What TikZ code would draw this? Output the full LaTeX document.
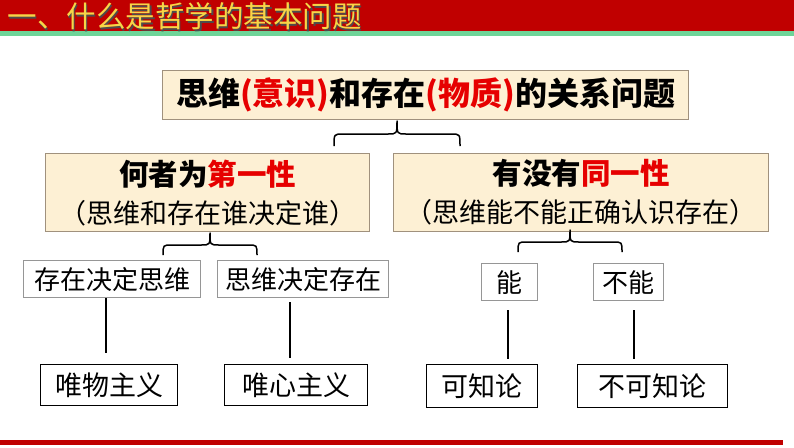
\documentclass[tikz,border=0pt]{standalone}
\usepackage{fontspec}
\newfontfamily\cjk{Noto Sans CJK SC}
\newfontfamily\cjkblack{Noto Sans CJK SC Black}
\definecolor{bandred}{RGB}{192,0,0}
\definecolor{bandgreen}{RGB}{110,212,152}
\definecolor{titlegold}{RGB}{246,214,72}
\definecolor{hired}{RGB}{230,0,0}
\definecolor{beige}{RGB}{253,240,212}
\definecolor{beigeborder}{RGB}{160,145,125}
\definecolor{smallborder}{RGB}{150,150,150}
\tikzset{
  bigbox/.style={draw=beigeborder, fill=beige, line width=1.2pt, inner sep=0pt, anchor=north west, align=center},
  smallbox/.style={draw=smallborder, fill=white, line width=1.2pt, inner sep=0pt, anchor=north west, font=\cjk\fontsize{26}{30}\selectfont},
  endbox/.style={draw=black, fill=white, line width=1.2pt, inner sep=0pt, anchor=north west, font=\cjk\fontsize{27}{30}\selectfont},
  conn/.style={draw=black, line width=1.5pt},
  bracestyle/.style={draw=black, line width=1.5pt, line join=round}
}
\newcommand\drawbrace[6]{%
  \draw[bracestyle] (#1,#4) .. controls (#1,#5) .. ({#1+9},#5) -- ({#3-9},#5)
    .. controls (#3,#5) .. (#3,#6) .. controls (#3,#5) .. ({#3+9},#5)
    -- ({#2-9},#5) .. controls (#2,#5) .. (#2,#4);}
\begin{document}
\begin{tikzpicture}[x=1pt,y=-1pt]
\useasboundingbox (0,0) rectangle (794,447);
% header
\fill[bandred] (0,0) rectangle (794,31);
\fill[bandgreen] (0,31) rectangle (794,36);
\node[anchor=west, text=black!70, font=\cjk\fontsize{29.5}{30}\selectfont, inner sep=0pt] (titleshadow) at (8.8,17.8) {一、什么是哲学的基本问题};
\node[anchor=west, text=titlegold, font=\cjk\fontsize{29.5}{30}\selectfont, inner sep=0pt] (title) at (7.5,16.5) {一、什么是哲学的基本问题};
% bottom bar
\fill[bandred] (0,440) rectangle (783,445);
% top box
\node[bigbox, minimum width=526pt, minimum height=49pt, font=\cjkblack\fontsize{32}{36}\selectfont] (top) at (162,70)
  {思维\textcolor{hired}{(意识)}和存在\textcolor{hired}{(物质)}的关系问题};
% second level
\node[bigbox, minimum width=324pt, minimum height=78pt, font=\cjk\fontsize{27}{38}\selectfont] (left) at (45,153)
  {{\cjkblack\fontsize{29.5}{38}\selectfont 何者为\textcolor{hired}{第一性}}\\（思维和存在谁决定谁）};
\node[bigbox, minimum width=375pt, minimum height=78pt, font=\cjk\fontsize{27}{38}\selectfont] (right) at (393,153)
  {{\cjkblack\fontsize{29.5}{38}\selectfont 有没有\textcolor{hired}{同一性}}\\（思维能不能正确认识存在）};
% third level
\node[smallbox, minimum width=177pt, minimum height=37pt] (s1) at (23,260) {存在决定思维};
\node[smallbox, minimum width=171pt, minimum height=37pt] (s2) at (217,260) {思维决定存在};
\node[smallbox, minimum width=56pt, minimum height=37pt] (s3) at (481,263) {能};
\node[smallbox, minimum width=70pt, minimum height=37pt] (s4) at (593,263) {不能};
% bottom level
\node[endbox, minimum width=137pt, minimum height=41pt] (b1) at (40,364) {唯物主义};
\node[endbox, minimum width=143pt, minimum height=41pt] (b2) at (224,364) {唯心主义};
\node[endbox, minimum width=111pt, minimum height=43pt] (b3) at (426,364) {可知论};
\node[endbox, minimum width=150pt, minimum height=43pt] (b4) at (577,364) {不可知论};
% braces
\drawbrace{334}{460}{397}{146}{134}{121}
\drawbrace{163}{257}{210}{255}{245}{233}
\drawbrace{518}{622}{570}{252}{242}{230}
% vertical connectors
\coordinate (l1t) at (106,298); \coordinate (l1b) at (106,353);
\coordinate (l2t) at (290,302); \coordinate (l2b) at (290,358);
\coordinate (l3t) at (508,310); \coordinate (l3b) at (508,359);
\coordinate (l4t) at (634,310); \coordinate (l4b) at (634,359);
\draw[conn] (l1t) -- (l1b);
\draw[conn] (l2t) -- (l2b);
\draw[conn] (l3t) -- (l3b);
\draw[conn] (l4t) -- (l4b);
\end{tikzpicture}
\end{document}
